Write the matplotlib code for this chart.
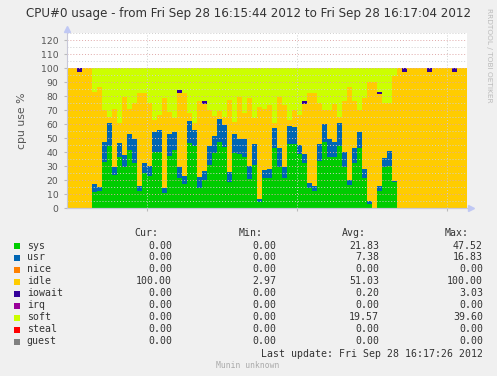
import numpy as np
import matplotlib
matplotlib.use("Agg")
import matplotlib.pyplot as plt
from matplotlib.patches import Rectangle

# one sample per second, 16:15:44 .. 16:17:04
sys_cpu = [0, 0, 0, 0, 0, 11.7, 12.2, 33, 44.3, 23.6,
           36.7, 29, 41.4, 32.4, 12.4, 24.8, 23, 39.8, 39.8, 11,
           37, 41.4, 21.6, 16.9, 46.7, 44.3, 14.5, 20, 30.7, 39,
           47.5, 43.9, 18.9, 39.5, 38.3, 36.7, 20.5, 30.7, 4.5, 21.6,
           21.6, 43, 29.5, 21.6, 45.4, 45.4, 38.6, 32, 14, 12,
           33.8, 47.4, 36.7, 36.7, 44.3, 29.5, 16.4, 32, 43, 21.2,
           2.6, 0, 12.1, 29.5, 30.2, 18.9, 0, 0, 0, 0,
           0, 0, 0, 0, 0, 0, 0, 0, 0, 0]
usr_cpu = [0, 0, 0, 0, 0, 5.4, 2.8, 14.4, 16.7, 5.9,
           9.5, 8.9, 11.5, 16.8, 3.3, 7.1, 7, 14.7, 15.9, 3,
           16, 13.1, 7.4, 5.9, 15.3, 11.4, 7.9, 6.4, 13.6, 12.4,
           15.8, 15.4, 7, 13.4, 10.9, 12.5, 9.5, 15, 1.9, 5.4,
           6.2, 14, 13.1, 7.9, 13.2, 12.2, 6.4, 6.6, 3.6, 3.7,
           11.6, 12.6, 12.5, 10.7, 16.7, 10.7, 3.6, 10.6, 11.5, 6.6,
           2.6, 0, 3.6, 6.2, 10.8, 0.6, 0, 0, 0, 0,
           0, 0, 0, 0, 0, 0, 0, 0, 0, 0]
nice_cpu = [0.0] * 80
idle_cpu = [100, 100, 97, 100, 100, 65.9, 71.7, 22.6, 4, 41,
            14.8, 41.1, 17.6, 25.8, 66.7, 50.1, 45, 8.5, 10.7, 64.3,
            15.7, 9.5, 53.5, 59.2, 5.6, 4.7, 54, 48.1, 25.7, 14.6,
            5.7, 5.7, 51, 8.6, 30.3, 18.8, 48.8, 18.3, 66, 44,
            45.7, 3.5, 36.4, 44, 4.4, 12.4, 21.4, 35.4, 64.4, 66.3,
            29.6, 10, 20.8, 26.9, 4, 36.4, 66.7, 34, 15.5, 50.5,
            84.6, 90, 66, 39.5, 34.2, 74.5, 100, 97, 100, 100,
            100, 100, 97.4, 100, 100, 100, 100, 97.4, 100, 100]
iowait_cpu = [0, 0, 3, 0, 0, 0, 0, 0, 0, 0,
              0, 0, 0, 0, 0, 0, 0, 0, 0, 0,
              0, 0, 1.5, 0, 0, 0, 0, 2, 0, 0,
              0, 0, 0, 0, 0, 0, 0, 0, 0, 0,
              0, 0, 0, 0, 0, 0, 0, 2.4, 0, 0,
              0, 0, 0, 0, 0, 0, 0, 0, 0, 0,
              0, 0, 1.4, 0, 0, 0, 0, 3, 0, 0,
              0, 0, 2.6, 0, 0, 0, 0, 2.6, 0, 0]
irq_cpu = [0.0] * 80
soft_cpu = [0, 0, 0, 0, 0, 17, 13.3, 30, 35, 29.5,
            39, 21, 29.5, 25, 17.6, 18, 25, 37, 33.6, 21.7,
            31.3, 36, 16, 18, 32.4, 39.6, 23.6, 23.5, 30, 34,
            31, 35, 23, 38.5, 20.5, 32, 21.2, 36, 27.6, 29,
            26.5, 39.5, 21, 26.5, 37, 30, 33.6, 23.6, 18, 18,
            25, 30, 30, 25.7, 35, 23.4, 13.3, 23.4, 30, 21.7,
            10.2, 10, 16.9, 24.8, 24.8, 6, 0, 0, 0, 0,
            0, 0, 0, 0, 0, 0, 0, 0, 0, 0]
steal_cpu = [0.0] * 80
guest_cpu = [0.0] * 80

names = ['sys', 'usr', 'nice', 'idle', 'iowait', 'irq', 'soft', 'steal', 'guest']
colors = ['#00CC00', '#0066B3', '#FF8000', '#FFCC00', '#330099',
          '#990099', '#CCFF00', '#FF0000', '#808080']
series = [sys_cpu, usr_cpu, nice_cpu, idle_cpu, iowait_cpu,
          irq_cpu, soft_cpu, steal_cpu, guest_cpu]

cur_vals = [0.00, 0.00, 0.00, 100.00, 0.00, 0.00, 0.00, 0.00, 0.00]
min_vals = [0.00, 0.00, 0.00, 2.97, 0.00, 0.00, 0.00, 0.00, 0.00]
avg_vals = [21.83, 7.38, 0.00, 51.03, 0.20, 0.00, 19.57, 0.00, 0.00]
max_vals = [47.52, 16.83, 0.00, 100.00, 3.03, 0.00, 39.60, 0.00, 0.00]

W, H = 497, 376
fig = plt.figure(figsize=(W / 100, H / 100), dpi=100, facecolor='#F0F0F0')
ax = fig.add_axes([66.67 / W, (H - 208) / H, 400 / W, 175 / H])
ax.set_facecolor('white')

# stacked areas, step style like rrdtool
x = np.arange(81)
base = np.zeros(80)
for vals, col in zip(series, colors):
    top = base + np.array(vals, dtype=float)
    ax.fill_between(x, np.append(base, base[-1]), np.append(top, top[-1]),
                    step='post', color=col, linewidth=0, antialiased=False, zorder=1)
    base = top

ax.set_xlim(0, 80)
ax.set_ylim(0, 125)
ax.set_yticks(range(0, 121, 10))
ax.set_yticks(np.arange(5, 126, 10), minor=True)
ax.set_xticks([16, 46, 76])
ax.set_xticklabels([])
ax.set_axisbelow(False)
ax.grid(which='major', axis='y', color='#E0A8A8', linestyle=(0, (1, 2)), linewidth=0.7, zorder=3)
ax.grid(which='minor', axis='y', color='#CFCFCF', linestyle=(0, (1, 2)), linewidth=0.7, zorder=3)
ax.grid(which='major', axis='x', color='#CFCFCF', linestyle=(0, (1, 2)), linewidth=0.7, zorder=3)
ax.tick_params(axis='y', which='major', labelsize=6.7, labelcolor='#555555',
               length=2, color='#BBBBBB', pad=4)
ax.tick_params(axis='y', which='minor', length=0)
ax.tick_params(axis='x', length=2, color='#BBBBBB')
for s in ['top', 'right']:
    ax.spines[s].set_visible(False)
for s in ['left', 'bottom']:
    ax.spines[s].set_color('#C8C8D8')
    ax.spines[s].set_linewidth(0.8)
    ax.spines[s].set_zorder(4)
ax.spines['left'].set_bounds(0, 128)
ax.plot([0, 1.012], [0, 0], transform=ax.transAxes, color='#C8C8D8', lw=0.8, clip_on=False, zorder=4)
ax.plot(1.012, 0, marker='>', ms=4, color='#C0C8F4', transform=ax.transAxes, clip_on=False, zorder=5)
ax.plot(0, 1.025, marker='^', ms=4, color='#C0C8F4', transform=ax.transAxes, clip_on=False, zorder=5)

ax.set_ylabel('cpu use %', fontsize=7.8, color='#555555', labelpad=10)

fig.text(248.5 / W, 1 - 13.5 / H,
         'CPU#0 usage - from Fri Sep 28 16:15:44 2012 to Fri Sep 28 16:17:04 2012',
         ha='center', va='center', fontsize=8.6, color='#333333')
fig.text(489 / W, 1 - 8 / H, 'RRDTOOL / TOBI OETIKER', rotation=270,
         ha='center', va='top', fontsize=5.3, color='#BBBBBB')

# legend table
mono = 'DejaVu Sans Mono'
fs = 7.1
row0 = 233.5
fig.text(158.7 / W, 1 - row0 / H, 'Cur:', ha='right', va='center', family=mono, fontsize=fs, color='#333333')
fig.text(262.7 / W, 1 - row0 / H, 'Min:', ha='right', va='center', family=mono, fontsize=fs, color='#333333')
fig.text(365.7 / W, 1 - row0 / H, 'Avg:', ha='right', va='center', family=mono, fontsize=fs, color='#333333')
fig.text(469 / W, 1 - row0 / H, 'Max:', ha='right', va='center', family=mono, fontsize=fs, color='#333333')
for i, name in enumerate(names):
    yy = row0 + 12 * (i + 1)
    fig.patches.append(Rectangle((14 / W, 1 - (yy + 3) / H), 6 / W, 6 / H,
                                 transform=fig.transFigure, facecolor=colors[i],
                                 edgecolor='none'))
    fig.text(26.7 / W, 1 - yy / H, name, ha='left', va='center', family=mono, fontsize=fs, color='#333333')
    for xr, v in zip([172, 276, 379, 483], [cur_vals[i], min_vals[i], avg_vals[i], max_vals[i]]):
        fig.text(xr / W, 1 - yy / H, f'{v:.2f}', ha='right', va='center',
                 family=mono, fontsize=fs, color='#333333')
fig.text(483 / W, 1 - 353.7 / H, 'Last update: Fri Sep 28 16:17:26 2012', ha='right',
         va='center', family=mono, fontsize=fs, color='#333333')
fig.text(248 / W, 1 - 365 / H, 'Munin unknown', ha='center', va='center',
         family=mono, fontsize=5.8, color='#AAAAAA')

fig.savefig('out.png', dpi=100, facecolor=fig.get_facecolor())
